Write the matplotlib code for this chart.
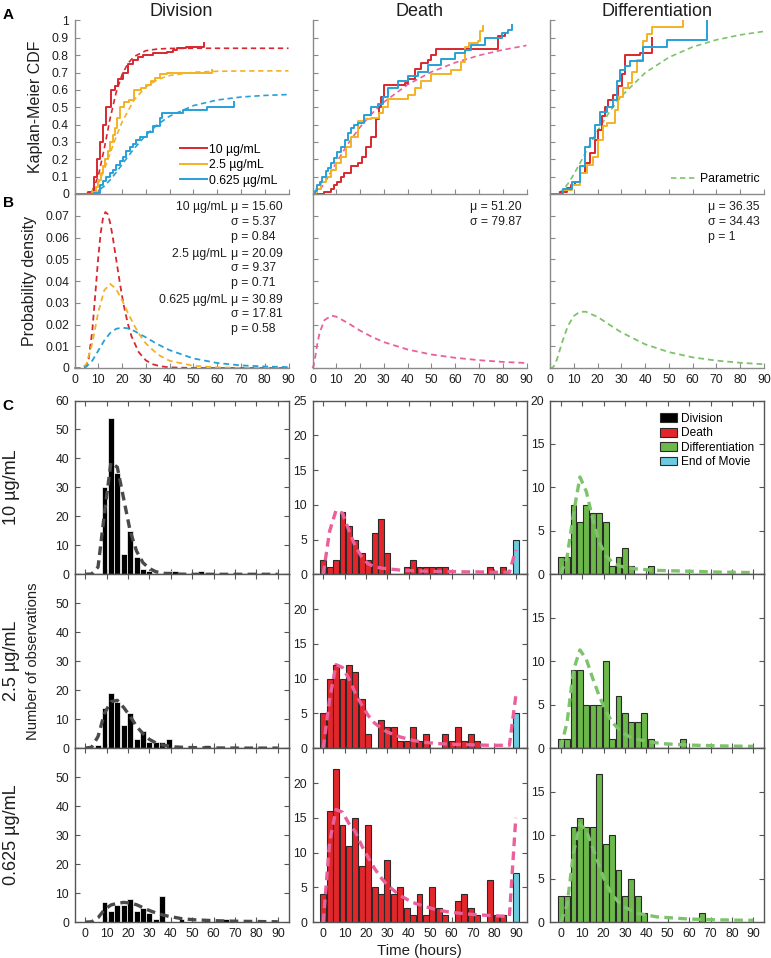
import numpy as np
import matplotlib
matplotlib.use("Agg")
import matplotlib.pyplot as plt
from matplotlib.lines import Line2D
from matplotlib.patches import Patch

plt.rcParams['font.family'] = ['Liberation Sans', 'DejaVu Sans']

# colours
RED = '#d7282f'
YEL = '#f3b225'
BLU = '#27a0d7'
PINK = '#e9609b'
GRN = '#7dc36b'
GRAY = '#8a8a8a'
BOX = '#555555'
TXT = '#1e1e1e'
BAR_RED = '#e3262b'
BAR_GRN = '#6cb94a'
BAR_CYAN = '#6ccbe0'
DIV_DASH = '#4a4a4a'

conc_labels = ['10 µg/mL', '2.5 µg/mL', '0.625 µg/mL']
col_titles = ['Division', 'Death', 'Differentiation']

# ---------------- A: Kaplan-Meier CDF
div10_t = [0, 5.6, 8.2, 9.6, 10.8, 12, 13.4, 15.5, 16.9, 18.5, 20.4, 22.5, 24.6, 26.5, 28.9, 33, 38.7, 41.5, 43, 47, 54.4]
div10_cdf = [0, 0.01, 0.1, 0.2, 0.3, 0.4, 0.5, 0.6, 0.62, 0.66, 0.7, 0.75, 0.77, 0.79, 0.8, 0.81, 0.82, 0.83, 0.84, 0.845, 0.87]
div25_t = [0, 7.5, 9, 10, 11, 12, 13, 14, 15, 16, 17, 18, 19, 21, 23, 25, 28, 30, 32, 34, 36, 39, 53, 57.7]
div25_cdf = [0, 0.01, 0.04, 0.08, 0.12, 0.16, 0.2, 0.25, 0.3, 0.34, 0.38, 0.44, 0.5, 0.53, 0.54, 0.6, 0.61, 0.63, 0.65, 0.67, 0.69, 0.70, 0.70, 0.715]
div0625_t = [0, 8, 10.6, 12, 13.4, 14.8, 16.2, 17.6, 19, 20.4, 21.8, 23.2, 24.6, 26, 27.5, 30.3, 33.1, 35.9, 36.6, 43, 45.8, 55.6, 67]
div0625_cdf = [0, 0.005, 0.05, 0.075, 0.1, 0.12, 0.14, 0.165, 0.19, 0.215, 0.245, 0.27, 0.29, 0.31, 0.33, 0.36, 0.39, 0.44, 0.465, 0.465, 0.485, 0.5, 0.53]

death10_t = [0, 5, 7.7, 9, 10.5, 12, 13.4, 16.2, 19, 21, 22.5, 24.6, 26.7, 28, 29, 30, 38.7, 40, 43, 45.7, 48.5, 50, 52, 78, 81]
death10_cdf = [0, 0.01, 0.03, 0.05, 0.07, 0.1, 0.12, 0.16, 0.18, 0.215, 0.27, 0.33, 0.43, 0.5, 0.56, 0.63, 0.64, 0.66, 0.72, 0.755, 0.77, 0.8, 0.835, 0.91, 0.93]
death25_t = [0, 1.5, 3.5, 5.5, 7.7, 10, 12, 14, 16.2, 19, 21.8, 24.6, 28, 29.5, 31.6, 40, 43, 45.7, 50, 58.4, 62.6, 64, 66, 69.6, 70.3, 71.7]
death25_cdf = [0, 0.03, 0.07, 0.1, 0.14, 0.18, 0.215, 0.27, 0.33, 0.42, 0.43, 0.44, 0.465, 0.5, 0.55, 0.57, 0.61, 0.65, 0.69, 0.715, 0.76, 0.85, 0.87, 0.88, 0.94, 0.97]
death0625_t = [0, 1, 2, 3, 4.2, 5.5, 6.5, 7.7, 9, 10.5, 12, 13.5, 15, 16.2, 17.5, 19, 21.8, 24.6, 27.4, 29.5, 31.6, 35.9, 40, 44.3, 48.5, 54, 59.8, 64, 66.8, 72.4, 79.5, 82.3, 83.7]
death0625_cdf = [0, 0.02, 0.05, 0.07, 0.1, 0.13, 0.15, 0.18, 0.21, 0.24, 0.27, 0.31, 0.35, 0.38, 0.40, 0.41, 0.455, 0.5, 0.52, 0.56, 0.61, 0.65, 0.68, 0.705, 0.745, 0.78, 0.81, 0.83, 0.86, 0.9, 0.93, 0.945, 0.975]

diff10_t = [0, 4.2, 7, 9, 10.5, 12.6, 14.7, 16.8, 18.9, 20.3, 21.7, 23.1, 24.5, 26.6, 28.8, 30.2, 31.6, 37.9, 42.8]
diff10_cdf = [0, 0.013, 0.033, 0.05, 0.07, 0.12, 0.18, 0.235, 0.31, 0.37, 0.45, 0.5, 0.54, 0.57, 0.62, 0.69, 0.8, 0.81, 0.9]
diff25_t = [0, 5.6, 9.1, 12.6, 15.4, 18.2, 20.3, 22.4, 23.8, 27.3, 28.8, 30.9, 33, 34.4, 36.5, 39.3, 40.7, 42.8, 56]
diff25_cdf = [0, 0.023, 0.05, 0.12, 0.17, 0.215, 0.31, 0.39, 0.41, 0.485, 0.56, 0.61, 0.64, 0.705, 0.775, 0.88, 0.925, 0.96, 1.0]
diff0625_t = [0, 5.6, 9.1, 12.6, 14.7, 16.8, 18.9, 21, 23.8, 26.6, 28, 29.5, 31.6, 33.7, 39.3, 49.1, 66.2]
diff0625_cdf = [0, 0.027, 0.07, 0.16, 0.27, 0.32, 0.4, 0.475, 0.5, 0.54, 0.65, 0.715, 0.735, 0.765, 0.85, 0.89, 1.0]

# parametric CDFs (dashed)
par_div10_t = [0, 5, 7.5, 10, 12.5, 15, 17.5, 20, 22.5, 25, 30, 35, 40, 50, 60, 70, 80, 90]
par_div10_cdf = [0, 0.0005, 0.018, 0.103, 0.261, 0.437, 0.584, 0.688, 0.753, 0.792, 0.826, 0.836, 0.839, 0.84, 0.84, 0.84, 0.84, 0.84]
par_div25_t = [0, 5, 7.5, 10, 12.5, 15, 17.5, 20, 25, 30, 35, 40, 50, 60, 70, 80, 90]
par_div25_cdf = [0, 0.0013, 0.0162, 0.0628, 0.1408, 0.2352, 0.3297, 0.4145, 0.5414, 0.6176, 0.66, 0.683, 0.7019, 0.7074, 0.709, 0.7095, 0.7098]
par_div0625_t = [0, 5, 7.5, 10, 12.5, 15, 17.5, 20, 22.5, 25, 30, 35, 40, 50, 60, 70, 80, 90]
par_div0625_cdf = [0, 0.0005, 0.0051, 0.0192, 0.0451, 0.0812, 0.1241, 0.1702, 0.2164, 0.2607, 0.339, 0.4012, 0.4486, 0.5095, 0.5418, 0.559, 0.5681, 0.5732]
par_death_t = [0, 1, 2, 3, 5, 8, 10, 15, 20, 25, 30, 40, 50, 60, 70, 80, 90]
par_death_cdf = [0, 0.0014, 0.009, 0.0228, 0.0619, 0.1322, 0.1801, 0.2912, 0.3855, 0.4641, 0.5295, 0.6305, 0.7034, 0.7575, 0.7987, 0.8308, 0.8562]
par_diff_t = [0, 2, 3, 5, 7.5, 10, 12.5, 15, 20, 25, 30, 40, 50, 60, 70, 80, 90]
par_diff_cdf = [0, 0.0006, 0.0033, 0.0188, 0.058, 0.1127, 0.1752, 0.2401, 0.3645, 0.473, 0.5636, 0.6984, 0.7877, 0.8476, 0.8886, 0.9171, 0.9374]

# ---------------- B: probability densities (dashed)
pdf_div10_t = [0, 4, 5, 6, 7.5, 9, 10, 11, 12, 13, 14, 15, 16, 17.5, 19, 20, 21, 22.5, 24, 27, 30, 33, 36, 40, 50, 60, 70, 80, 90]
pdf_div10 = [0, 0.0001, 0.0011, 0.0045, 0.0173, 0.0374, 0.051, 0.062, 0.069, 0.0717, 0.0707, 0.0667, 0.0608, 0.0502, 0.0396, 0.0331, 0.0273, 0.0201, 0.0145, 0.0073, 0.0035, 0.0017, 0.0008, 0.0003, 0, 0, 0, 0, 0]
pdf_div25_t = [0, 3, 5, 7.5, 10, 12.5, 15, 17.5, 20, 22.5, 25, 27.5, 30, 35, 40, 50, 60, 70, 80, 90]
pdf_div25 = [0, 0, 0.0018, 0.0115, 0.0257, 0.0357, 0.0387, 0.0363, 0.0312, 0.0253, 0.0198, 0.0151, 0.0113, 0.0062, 0.0033, 0.001, 0.0003, 0.0001, 0, 0]
pdf_div0625_t = [0, 3, 5, 7.5, 10, 12.5, 15, 17.5, 20, 22.5, 25, 30, 35, 40, 50, 60, 70, 80, 90]
pdf_div0625 = [0, 0, 0.0006, 0.0034, 0.008, 0.0126, 0.0161, 0.018, 0.0186, 0.0182, 0.0171, 0.0141, 0.0109, 0.0082, 0.0044, 0.0023, 0.0012, 0.0007, 0.0004]
pdf_death_t = [0, 0.5, 1, 2, 3, 5, 8, 10, 15, 20, 25, 30, 40, 50, 60, 70, 80, 90]
pdf_death = [0, 0.0011, 0.0041, 0.011, 0.0162, 0.022, 0.0241, 0.0236, 0.0206, 0.0172, 0.0143, 0.0119, 0.0085, 0.0062, 0.0047, 0.0036, 0.0028, 0.0023]
pdf_diff_t = [0, 1, 2, 3, 5, 7.5, 10, 12.5, 15, 20, 25, 30, 40, 50, 60, 70, 80, 90]
pdf_diff = [0, 0.0001, 0.0014, 0.0042, 0.0115, 0.0193, 0.0239, 0.0258, 0.0259, 0.0235, 0.0199, 0.0164, 0.0109, 0.0073, 0.0049, 0.0034, 0.0024, 0.0017]

param_text = [
    [['10 µg/mL', 'μ = 15.60'], ['', 'σ = 5.37'], ['', 'p = 0.84'],
     ['2.5 µg/mL', 'μ = 20.09'], ['', 'σ = 9.37'], ['', 'p = 0.71'],
     ['0.625 µg/mL', 'μ = 30.89'], ['', 'σ = 17.81'], ['', 'p = 0.58']],
    [['', 'μ = 51.20'], ['', 'σ = 79.87']],
    [['', 'μ = 36.35'], ['', 'σ = 34.43'], ['', 'p = 1']],
]

# ---------------- C: histograms (3 h bins)
bin_centers = [0, 3, 6, 9, 12, 15, 18, 21, 24, 27, 30, 33, 36, 39, 42, 45, 48, 51, 54, 57,
               60, 63, 66, 69, 72, 75, 78, 81, 84, 87]
div_counts = [
    [0, 0, 0, 30, 54, 35, 7, 15, 6, 2, 1, 0, 0, 1, 1, 0, 0, 0, 1, 0, 0, 0, 0, 0, 0, 0, 0, 0, 0, 0],
    [0, 0, 1, 14, 19, 16, 8, 12, 3, 6, 2, 2, 2, 3, 0, 0, 0, 0, 0, 1, 0, 0, 0, 0, 0, 0, 0, 0, 0, 0],
    [0, 0, 0, 7, 4, 6, 6, 8, 4, 5, 3, 1, 9, 0, 0, 1, 0, 0, 0, 1, 0, 0, 1, 0, 0, 0, 0, 0, 0, 0],
]
death_counts = [
    [2, 1, 2, 9, 7, 5, 3, 2, 6, 8, 3, 0, 0, 1, 2, 1, 1, 1, 1, 1, 0, 0, 0, 0, 0, 0, 1, 0, 1, 0],
    [5, 10, 12, 10, 12, 11, 7, 2, 0, 4, 3, 3, 1, 1, 3, 1, 2, 0, 0, 2, 1, 3, 1, 2, 1, 0, 0, 0, 0, 0],
    [4, 16, 22, 14, 11, 15, 8, 14, 5, 4, 9, 4, 5, 2, 1, 4, 1, 5, 2, 1, 0, 3, 4, 2, 1, 0, 6, 1, 1, 0],
]
diff_counts = [
    [2, 2, 8, 6, 8, 7, 7, 6, 1, 2, 3, 1, 0, 0, 1, 0, 0, 0, 0, 0, 0, 0, 0, 0, 0, 0, 0, 0, 0, 0],
    [1, 1, 9, 9, 5, 5, 5, 10, 1, 6, 4, 3, 3, 4, 1, 0, 0, 0, 0, 1, 0, 0, 0, 0, 0, 0, 0, 0, 0, 0],
    [3, 3, 11, 12, 11, 11, 17, 9, 10, 6, 3, 5, 3, 1, 0, 0, 0, 0, 0, 0, 0, 0, 1, 0, 0, 0, 0, 0, 0, 0],
]
eom_time = 90
eom_counts = [5, 5, 7]

# fitted curves over the histograms
fit_div_t = [
    [0, 3, 6, 9, 12, 15, 18, 21, 24, 27, 30, 33, 36, 39, 42, 48, 60, 75, 90],
    [0, 3, 6, 9, 12, 15, 18, 21, 24, 27, 30, 33, 36, 39, 42, 48, 54, 60, 75, 90],
    [0, 3, 6, 9, 12, 15, 18, 21, 24, 27, 30, 33, 36, 39, 45, 51, 60, 70, 80, 90],
]
fit_div = [
    [0, 0.1, 2.5, 21, 38.5, 37, 26, 15, 8, 4, 2, 0.9, 0.4, 0.2, 0.1, 0, 0, 0, 0],
    [0, 0.3, 4, 12, 16, 16.5, 14, 11, 7.5, 5, 3, 1.8, 1.1, 0.7, 0.4, 0.2, 0.1, 0.05, 0, 0],
    [0, 0.1, 1.5, 4.3, 5.9, 6.5, 6.8, 6.6, 6, 5, 4, 3.2, 2.5, 2, 1.2, 0.8, 0.5, 0.3, 0.2, 0.1],
]
fit_death_t = [0, 3, 6, 9, 12, 15, 18, 21, 24, 27, 30, 36, 42, 48, 54, 60, 66, 72, 78, 84, 87, 90]
fit_death = [
    [0, 6.2, 9.2, 8.8, 6.3, 4, 2.5, 1.5, 1.1, 0.9, 0.8, 0.6, 0.5, 0.45, 0.4, 0.4, 0.35, 0.35, 0.3, 0.3, 0.3, 3.5],
    [0, 7, 12, 11.6, 10, 7.9, 6.2, 4.7, 3.6, 2.9, 2.3, 1.6, 1.1, 0.8, 0.65, 0.55, 0.5, 0.45, 0.4, 0.4, 0.4, 7.5],
    [0, 11.5, 16.2, 15.8, 14.2, 13, 11, 9.3, 7.7, 6.4, 5.3, 3.8, 2.8, 2.2, 1.7, 1.4, 1.2, 1.05, 0.95, 0.85, 0.8, 15],
]
fit_diff_t = [
    [0, 3, 6, 9, 12, 15, 18, 21, 24, 27, 30, 36, 45, 60, 75, 90],
    [0, 3, 6, 9, 12, 15, 18, 21, 24, 27, 30, 33, 36, 42, 48, 60, 75, 90],
    [0, 3, 6, 9, 12, 15, 18, 21, 24, 27, 30, 36, 45, 60, 75, 90],
]
fit_diff = [
    [0, 2, 7, 11.2, 9.5, 6.3, 3.7, 2.2, 1.4, 1, 0.8, 0.6, 0.45, 0.35, 0.25, 0.2],
    [0, 3, 9, 11.3, 10.2, 8, 6, 4.3, 3, 2.2, 1.6, 1.2, 1, 0.7, 0.5, 0.35, 0.25, 0.2],
    [0, 2, 8, 11.3, 10.5, 8.5, 6.5, 4.5, 3.2, 2.3, 1.7, 1, 0.6, 0.35, 0.25, 0.2],
]

# ---------------- layout (pixels)
W, H = 771, 958
fig = plt.figure(figsize=(W / 100, H / 100), dpi=100)


def add_ax(left, top, w, h):
    return fig.add_axes([left / W, 1 - (top + h) / H, w / W, h / H])


col_left = [74.5, 312.5, 550]
col_w = 214
A_top, A_h = 20.5, 173.5
B_top, B_h = 194, 174
C_tops = [400.5, 574.3, 748.3]
C_h = 173.8
TICK = 8.7


def style_open(ax):
    for s in ['top', 'right']:
        ax.spines[s].set_visible(False)
    for s in ['left', 'bottom']:
        ax.spines[s].set_color(GRAY)
        ax.spines[s].set_linewidth(1.0)
    ax.tick_params(direction='in', length=3.5, color=GRAY, labelsize=TICK,
                   labelcolor=TXT, pad=4)
    ax.set_xlim(0, 90)
    ax.set_xticks(range(0, 91, 10))
    ax.patch.set_alpha(0)


xt = [str(v) for v in range(0, 91, 10)]

# ---- panel A
km = [
    [(div10_t, div10_cdf, RED), (div25_t, div25_cdf, YEL), (div0625_t, div0625_cdf, BLU)],
    [(death10_t, death10_cdf, RED), (death25_t, death25_cdf, YEL), (death0625_t, death0625_cdf, BLU)],
    [(diff10_t, diff10_cdf, RED), (diff25_t, diff25_cdf, YEL), (diff0625_t, diff0625_cdf, BLU)],
]
par = [
    [(par_div10_t, par_div10_cdf, RED), (par_div25_t, par_div25_cdf, YEL), (par_div0625_t, par_div0625_cdf, BLU)],
    [(par_death_t, par_death_cdf, PINK)],
    [(par_diff_t, par_diff_cdf, GRN)],
]
pdfs = [
    [(pdf_div10_t, pdf_div10, RED), (pdf_div25_t, pdf_div25, YEL), (pdf_div0625_t, pdf_div0625, BLU)],
    [(pdf_death_t, pdf_death, PINK)],
    [(pdf_diff_t, pdf_diff, GRN)],
]

for c in range(3):
    ax = add_ax(col_left[c], A_top, col_w, A_h)
    style_open(ax)
    ax.set_ylim(0, 1)
    ax.set_yticks([i / 10 for i in range(11)])
    ax.set_xticklabels([])
    if c == 0:
        ax.set_yticklabels(['0', '0.1', '0.2', '0.3', '0.4', '0.5', '0.6', '0.7', '0.8', '0.9', '1'])
    else:
        ax.set_yticklabels([])
    for t, v, col in par[c]:
        ax.plot(t, v, color=col, lw=1.2, dashes=(3.2, 2.2))
    for t, v, col in km[c]:
        ax.step(t, v, where='post', color=col, lw=1.4)
    ax.set_title(col_titles[c], fontsize=13, color=TXT, pad=2)
    if c == 0:
        handles = [Line2D([], [], color=RED, lw=1.4), Line2D([], [], color=YEL, lw=1.4),
                   Line2D([], [], color=BLU, lw=1.4)]
        ax.legend(handles, conc_labels, loc='upper left', bbox_to_anchor=(0.493, 0.29),
                  frameon=False, fontsize=8.8, borderpad=0, borderaxespad=0,
                  handlelength=2.2, handletextpad=0.2, labelspacing=0.28)
        ax.set_ylabel('Kaplan-Meier CDF', fontsize=11.5, color=TXT, labelpad=6)
    if c == 2:
        h = [Line2D([], [], color=GRN, lw=1.2, dashes=(3.2, 2.2))]
        ax.legend(h, ['Parametric'], loc='center left', bbox_to_anchor=(0.565, 0.085),
                  frameon=False, fontsize=8.8, borderpad=0, borderaxespad=0,
                  handlelength=2.1, handletextpad=0.25)

# ---- panel B
B_rows_y = [0.925, 0.839, 0.753, 0.655, 0.575, 0.489, 0.391, 0.310, 0.224]
for c in range(3):
    ax = add_ax(col_left[c], B_top, col_w, B_h)
    style_open(ax)
    ax.set_ylim(0, 0.08)
    ax.set_yticks([i / 100 for i in range(8)])
    ax.set_xticklabels(xt)
    if c == 0:
        ax.set_yticklabels(['0', '0.01', '0.02', '0.03', '0.04', '0.05', '0.06', '0.07'])
        ax.set_ylabel('Probability density', fontsize=11.5, color=TXT, labelpad=6)
    else:
        ax.set_yticklabels([])
    for t, v, col in pdfs[c]:
        ax.plot(t, v, color=col, lw=1.3, dashes=(3.2, 2.2), clip_on=False)
    x_left = 0.731 if c == 0 else 0.737
    for i, (lab, val) in enumerate(param_text[c]):
        if lab:
            ax.text(x_left - 0.018, B_rows_y[i], lab, transform=ax.transAxes, ha='right',
                    va='center', fontsize=8.8, color=TXT)
        ax.text(x_left, B_rows_y[i], val, transform=ax.transAxes, ha='left',
                va='center', fontsize=8.8, color=TXT)

# ---- panel C
counts = [div_counts, death_counts, diff_counts]
bar_col = ['black', BAR_RED, BAR_GRN]
bar_edge = ['white', '#2a2a2a', '#2a2a2a']
fit_col = [DIV_DASH, PINK, GRN]
ymax = [60, 25, 20]
ystep = [10, 5, 5]
bins = np.array(bin_centers)

for r in range(3):
    for c in range(3):
        ax = add_ax(col_left[c], C_tops[r], col_w, C_h)
        for s in ax.spines.values():
            s.set_color(BOX)
            s.set_linewidth(1.0)
        ax.tick_params(direction='in', length=3.5, color=BOX, labelsize=TICK,
                       labelcolor=TXT, top=True, right=True, pad=4)
        ax.set_xlim(-5, 95)
        ax.set_xticks(range(0, 91, 10))
        ax.set_ylim(0, ymax[c])
        yt = list(range(0, ymax[c] + 1, ystep[c]))
        ax.set_yticks(yt)
        labs = [str(v) for v in yt]
        if r > 0:
            labs[-1] = ''
        ax.set_yticklabels(labs)
        if r == 2:
            ax.set_xticklabels(xt)
        else:
            ax.set_xticklabels([])
        cnt = np.array(counts[c][r])
        m = cnt > 0
        lw = 0.5 if c == 0 else 0.8
        ax.bar(bins[m], cnt[m], width=2.75, color=bar_col[c], edgecolor=bar_edge[c],
               linewidth=lw, zorder=2)
        if c == 1:
            ax.bar([eom_time], [eom_counts[r]], width=2.75, color=BAR_CYAN,
                   edgecolor='#2a2a2a', linewidth=0.8, zorder=2)
            ft, fv = fit_death_t, fit_death[r]
        elif c == 0:
            ft, fv = fit_div_t[r], fit_div[r]
        else:
            ft, fv = fit_diff_t[r], fit_diff[r]
        ax.plot(ft, fv, color=fit_col[c], lw=2.4, dashes=(2.6, 1.6), zorder=3)
        if r == 0 and c == 2:
            hp = [Patch(facecolor='black', edgecolor='#2a2a2a', lw=0.8),
                  Patch(facecolor=BAR_RED, edgecolor='#2a2a2a', lw=0.8),
                  Patch(facecolor=BAR_GRN, edgecolor='#2a2a2a', lw=0.8),
                  Patch(facecolor=BAR_CYAN, edgecolor='#2a2a2a', lw=0.8)]
            ax.legend(hp, ['Division', 'Death', 'Differentiation', 'End of Movie'],
                      loc='upper left', bbox_to_anchor=(0.514, 0.928), frameon=False,
                      fontsize=8.6, borderpad=0, borderaxespad=0, handlelength=1.4,
                      handleheight=0.75, handletextpad=0.4, labelspacing=0.2)
        if r == 2 and c == 1:
            ax.set_xlabel('Time (hours)', fontsize=10.8, color=TXT, labelpad=3)

# left-hand labels
fig.text(33 / W, 1 - 661 / H, 'Number of observations', rotation=90, ha='center',
         va='center', fontsize=10.6, color=TXT)
for r, y in enumerate([487, 661, 835]):
    fig.text(12 / W, 1 - y / H, conc_labels[r], rotation=90, ha='center', va='center',
             fontsize=13, color=TXT)
for lab, y in [('A', 15), ('B', 203), ('C', 406)]:
    fig.text(8 / W, 1 - y / H, lab, ha='center', va='center', fontsize=11,
             fontweight='bold', color='black')

fig.savefig('out.png', dpi=100)
